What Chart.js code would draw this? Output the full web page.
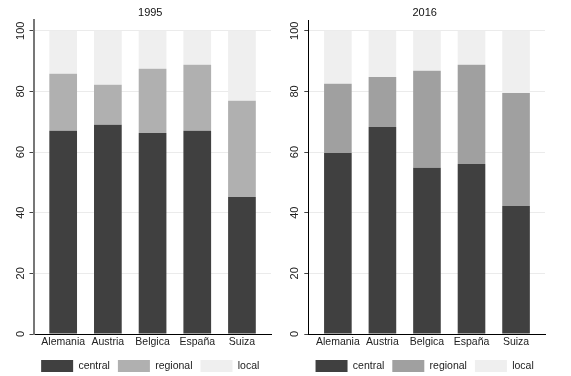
<!DOCTYPE html>
<html>
<head>
<meta charset="utf-8">
<script src="https://cdn.jsdelivr.net/npm/chart.js@4"></script>
<style>
  html, body { margin: 0; padding: 0; background: #fff; }
  #wrap { position: relative; width: 571px; height: 376px; }
  .panel { position: absolute; top: 0; height: 376px; }
  #p1 { left: 0; width: 285px; }
  #p2 { left: 285px; width: 286px; }
</style>
</head>
<body>
<div id="wrap">
  <div class="panel" id="p1"><canvas id="g1995"></canvas></div>
  <div class="panel" id="p2"><canvas id="g2016"></canvas></div>
</div>
<script>
const paises = ["Alemania", "Austria", "Belgica", "España", "Suiza"];
const yTicks = [0, 20, 40, 60, 80, 100];

// 1995
const central1995 = [67.0, 69.0, 66.3, 67.0, 45.2];
const regional1995 = [18.8, 13.2, 21.2, 21.8, 31.7];
const local1995 = [14.2, 17.8, 12.5, 11.2, 23.1];

// 2016
const central2016 = [59.7, 68.3, 54.8, 56.1, 42.2];
const regional2016 = [22.8, 16.5, 32.0, 32.7, 37.3];
const local2016 = [17.5, 15.2, 13.2, 11.2, 20.5];

const fuente = "'Liberation Sans', Arial, sans-serif";

// etiquetas del eje y giradas (estilo Stata)
const etiquetasY = {
  id: "etiquetasY",
  afterDraw(chart, args, opts) {
    const y = chart.scales.y;
    const c = chart.ctx;
    c.save();
    c.font = "11px " + fuente;
    c.fillStyle = "#222";
    c.textAlign = "center";
    c.textBaseline = "middle";
    y.ticks.forEach(t => {
      c.save();
      c.translate(y.right - opts.dist, y.getPixelForValue(t.value));
      c.rotate(-Math.PI / 2);
      c.fillText(String(t.value), 0, 0);
      c.restore();
    });
    c.restore();
  }
};

function grafico(id, titulo, central, regional, local, colRegional, ejeColor, ejeAncho, pad) {
  const conjuntos = [
    { label: "central", data: central, backgroundColor: "#404040", borderColor: "#404040" },
    { label: "regional", data: regional, backgroundColor: colRegional, borderColor: colRegional },
    { label: "local", data: local, backgroundColor: "#efefef", borderColor: "#efefef" }
  ].map(d => ({ ...d, borderWidth: 0, barPercentage: 0.62, categoryPercentage: 1 }));

  return new Chart(document.getElementById(id), {
    type: "bar",
    data: { labels: paises.map((_, i) => i), datasets: conjuntos },
    options: {
      responsive: true,
      maintainAspectRatio: false,
      animation: false,
      layout: { padding: pad },
      plugins: {
        title: {
          display: true, text: titulo, color: "#111",
          font: { family: fuente, size: 11, weight: "normal" },
          padding: { top: 6, bottom: 1 }
        },
        legend: {
          position: "bottom",
          labels: {
            color: "#222", boxWidth: 32, boxHeight: 12, padding: 8,
            font: { family: fuente, size: 10.5 }
          }
        },
        tooltip: { enabled: false },
        etiquetasY: { dist: 13 }
      },
      scales: {
        x: {
          type: "linear", min: -0.664, max: 4.65, stacked: true, offset: false,
          afterBuildTicks: s => { s.ticks = paises.map((_, i) => ({ value: i })); },
          afterFit: s => { s.height = 18; },
          grid: { display: false, drawTicks: false, offset: false },
          border: { color: "#000", width: 1 },
          ticks: {
            color: "#222", padding: 2, maxRotation: 0, autoSkip: false,
            font: { family: fuente, size: 10.5 },
            callback: v => paises[v]
          }
        },
        y: {
          min: 0, max: 103.5, stacked: true,
          afterBuildTicks: s => { s.ticks = yTicks.map(v => ({ value: v })); },
          grid: { color: "#ebebeb", lineWidth: 1, drawTicks: true, tickLength: 4, tickColor: "#444", tickWidth: 1 },
          border: { color: ejeColor, width: ejeAncho },
          ticks: { display: false }
        }
      }
    },
    plugins: [etiquetasY]
  });
}

grafico("g1995", "1995", central1995, regional1995, local1995, "#b0b0b0", "#777", 2,
  { left: 29.5, right: 14, top: 0, bottom: -6 });
grafico("g2016", "2016", central2016, regional2016, local2016, "#a0a0a0", "#000", 1,
  { left: 19.3, right: 26, top: 0, bottom: -6 });
</script>
</body>
</html>
